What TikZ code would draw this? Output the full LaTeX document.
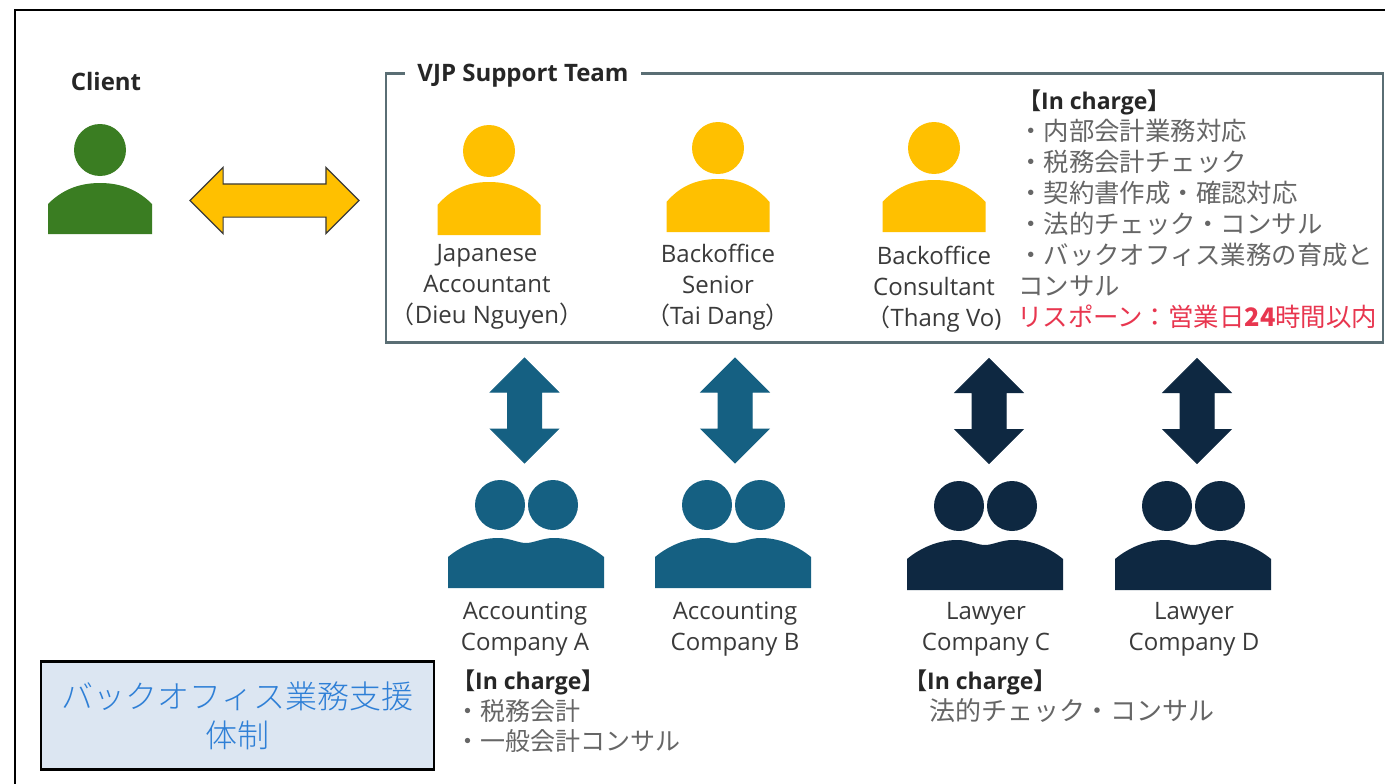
\documentclass[tikz,border=0pt]{standalone}
\usepackage{fontspec}
\setmainfont{Open Sans}
\newfontfamily\jp{Noto Sans CJK JP}
\newfontfamily\jplight{Noto Sans CJK JP Light}
\usetikzlibrary{shapes.arrows}
\definecolor{grn}{HTML}{3A7D22}
\definecolor{ylw}{HTML}{FFC000}
\definecolor{blu}{HTML}{156082}
\definecolor{nvy}{HTML}{0E2841}
\definecolor{teamline}{HTML}{5A6E74}
\definecolor{txt}{HTML}{3A3A3A}
\definecolor{jptxt}{HTML}{666666}
\definecolor{redt}{HTML}{E8364F}
\definecolor{paleb}{HTML}{DCE6F2}
\definecolor{blut}{HTML}{2E7FD6}
\tikzset{
  x=1pt,y=-1pt,
  lbl/.style={align=center,text=txt,inner sep=0pt,font=\fontsize{24}{31}\selectfont},
  ttl/.style={inner sep=0pt,text=black!85,font=\fontsize{24}{28}\selectfont\bfseries},
  jpl/.style={anchor=west,inner sep=0pt,text=jptxt,font=\jp\fontsize{25.4}{31}\selectfont},
  chg/.style={anchor=west,inner sep=0pt,text=black!85,font=\jp\bfseries\fontsize{23}{28}\selectfont},
  head/.style={circle,inner sep=0pt,minimum size=#1,draw=none},
  harrow/.style={double arrow,inner sep=16pt,minimum height=169pt,minimum width=65pt,
     double arrow head extend=16.5pt,double arrow tip angle=90,draw=#1,line width=1.2pt},
  varrow/.style={double arrow,shape border rotate=90,inner sep=16.5pt,minimum height=105pt,minimum width=67pt,
     double arrow head extend=17pt,double arrow tip angle=90,draw=#1,fill=#1,line width=1pt},
}
% one person: name, colour, head x, head y, body top y, body bottom y, half width
\newcommand\oneperson[7]{%
  \node[head=52pt,fill=#2] (#1) at (#3,#4) {};
  \fill[#2] (#3-#7,#6) -- (#3-#7,#6-30) .. controls (#3-#7+12,#5+9) and (#3-24,#5) .. (#3,#5)
     .. controls (#3+24,#5) and (#3+#7-12,#5+9) .. (#3+#7,#6-30) -- (#3+#7,#6) -- cycle;
}
% a pair: name, colour, left edge, head y, body top, body bottom
\newcommand\twopeople[6]{%
  \node[head=50pt,fill=#2] (#1a) at (#3+52,#4) {};
  \node[head=50pt,fill=#2] (#1b) at (#3+105,#4) {};
  \fill[#2] (#3,#6) -- (#3,#6-31) .. controls (#3+12,#5+9) and (#3+30,#5) .. (#3+50,#5)
     .. controls (#3+62,#5) and (#3+70,#5+5) .. (#3+78,#5+5)
     .. controls (#3+86,#5+5) and (#3+94,#5) .. (#3+106,#5)
     .. controls (#3+126,#5) and (#3+144,#5+9) .. (#3+156,#6-31) -- (#3+156,#6) -- cycle;
}
\begin{document}
\begin{tikzpicture}
\useasboundingbox (0,0) rectangle (1385,784);
\fill[white] (0,0) rectangle (1385,784);
% outer frame
\draw[black,line width=2pt] (14.5,784) -- (14.5,10.5) -- (1385,10.5);
% client
\node[ttl] (client) at (106,82) {Client};
\oneperson{clientp}{grn}{100}{150}{183}{234}{52}
\node[harrow=txt,fill=ylw] (link) at (274.5,200.5) {};
% team
\node[draw=teamline,line width=2.5pt,minimum width=997pt,minimum height=269pt,inner sep=0pt] (team) at (884.5,208) {};
\node[ttl,fill=white,inner xsep=12pt,inner ysep=4pt] (teamt) at (523,76) {VJP Support Team};
\oneperson{p1}{ylw}{489}{151}{182}{235}{51.5}
\oneperson{p2}{ylw}{718}{148}{179}{232}{51.5}
\oneperson{p3}{ylw}{934}{148}{180}{232}{51.5}
\node[lbl] (p1t) at (487,287) {Japanese\\Accountant\\{\jp（}Dieu Nguyen{\jp）}};
\node[lbl] (p2t) at (718,287) {Backoffice\\Senior\\{\jp（}Tai Dang{\jp）}};
\node[lbl] (p3t) at (934,289) {Backoffice\\Consultant\\{\jp（}Thang Vo)};
\node[chg] (ic1) at (1018,102) {【\fontspec{Open Sans}In charge\jp】};
\node[jpl] (a1) at (1018,131) {・内部会計業務対応};
\node[jpl] (a2) at (1018,162) {・税務会計チェック};
\node[jpl] (a3) at (1018,193) {・契約書作成・確認対応};
\node[jpl] (a4) at (1018,224) {・法的チェック・コンサル};
\node[jpl] (a5) at (1018,255) {・バックオフィス業務の育成と};
\node[jpl] (a6) at (1018,286) {コンサル};
\node[jpl,text=redt] (a7) at (1017,317) {リスポーン：営業日\textbf{24}時間以内};
% vertical arrows
\node[varrow=blu] (v1) at (524.5,410.5) {};
\node[varrow=blu] (v2) at (735,410.5) {};
\node[varrow=nvy] (v3) at (989,411) {};
\node[varrow=nvy] (v4) at (1197,411) {};
% companies
\twopeople{c1}{blu}{448}{505}{538}{588}
\twopeople{c2}{blu}{655}{505}{538}{588}
\twopeople{c3}{nvy}{907}{506}{540}{590}
\twopeople{c4}{nvy}{1115}{506}{540}{590}
\node[lbl] (c1t) at (525,629) {Accounting\\Company A};
\node[lbl] (c2t) at (735,629) {Accounting\\Company B};
\node[lbl] (c3t) at (986,629) {Lawyer\\Company C};
\node[lbl] (c4t) at (1194,629) {Lawyer\\Company D};
\node[chg] (ic2) at (452,682) {【\fontspec{Open Sans}In charge\jp】};
\node[jpl,font=\jp\fontsize{25}{31}\selectfont] (b1) at (455,711) {・税務会計};
\node[jpl,font=\jp\fontsize{25}{31}\selectfont] (b2) at (455,741) {・一般会計コンサル};
\node[chg] (ic3) at (904,682) {【\fontspec{Open Sans}In charge\jp】};
\node[jpl,font=\jp\fontsize{26}{31}\selectfont] (b3) at (929,711) {法的チェック・コンサル};
% title box
\node[draw=black,line width=2.6pt,fill=paleb,minimum width=393pt,minimum height=108pt,inner sep=0pt,
  align=center,text=blut,font=\jplight\fontsize{32}{39}\selectfont] (title) at (237.5,715.5) {バックオフィス業務支援\\体制};
\end{tikzpicture}
\end{document}
